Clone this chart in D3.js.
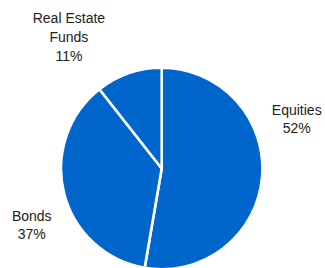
<!DOCTYPE html>
<html>
<head>
    <script src="https://d3js.org/d3.v7.min.js"></script>
    <style>
        body { margin: 0; background: #fff; }
        svg { display: block; }
    </style>
</head>
<body>
    <div id="chart"></div>
    <script>
        // data
        let categories = ["Equities", "Bonds", "Real Estate Funds"];
        let shares = [52.7, 36.7, 10.6];
        let pctLabels = ["52%", "37%", "11%"];
        let labelLines = [["Equities"], ["Bonds"], ["Real Estate", "Funds"]];

        let width = 325;
        let height = 268;
        let cx = 161.7, cy = 168.5, radius = 100.7;

        // where each label sits: angle (deg, clockwise from top) and distance from centre
        let labelPlace = [[69.9, 143.8], [246.5, 141.7], [-35.2, 161]];

        let svg = d3.select("#chart").append("svg")
            .attr("width", width)
            .attr("height", height);

        let pie = d3.pie().sort(null).value(d => d);
        let arc = d3.arc().innerRadius(0).outerRadius(radius);

        let g = svg.append("g")
            .attr("transform", `translate(${cx},${cy})`);

        g.selectAll("path")
            .data(pie(shares))
            .join("path")
            .attr("d", arc)
            .attr("fill", "#0066cc")
            .attr("stroke", "#fff")
            .attr("stroke-width", 2.6)
            .attr("stroke-linejoin", "round");

        let fontSize = 14, lineH = 18.8;
        categories.forEach((c, i) => {
            let lines = labelLines[i].concat([pctLabels[i]]);
            let a = labelPlace[i][0] * Math.PI / 180;
            let r = labelPlace[i][1];
            let lx = Math.sin(a) * r;
            let ly = -Math.cos(a) * r;
            let t = g.append("text")
                .attr("text-anchor", "middle")
                .attr("font-family", "Liberation Sans, Arial, sans-serif")
                .attr("font-size", fontSize)
                .attr("fill", "#222");
            lines.forEach((s, j) => {
                t.append("tspan")
                    .attr("x", lx)
                    .attr("y", ly + (j - (lines.length - 1) / 2) * lineH + fontSize * 0.35)
                    .text(s);
            });
        });
    </script>
</body>
</html>
